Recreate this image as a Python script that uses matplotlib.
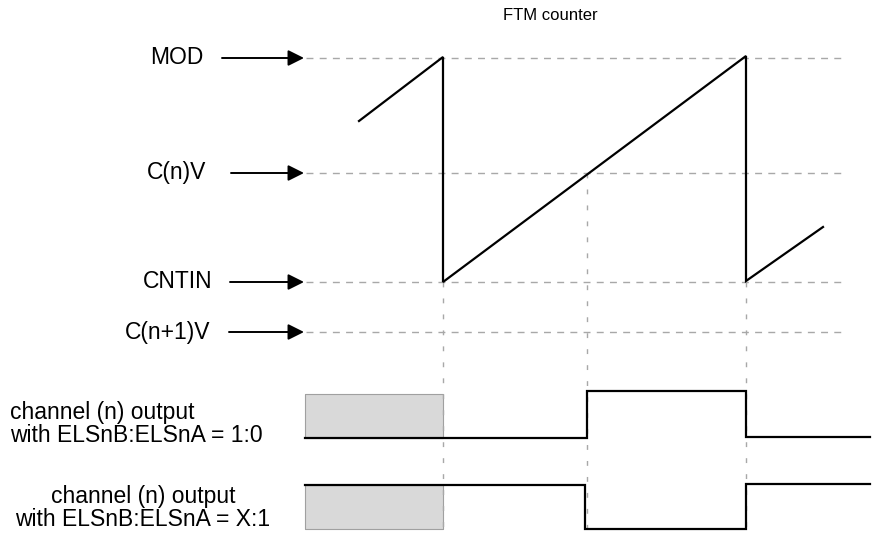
import numpy as np
from matplotlib import pyplot as plt

plt.rcParams['font.family'] = ['Liberation Sans', 'DejaVu Sans']

# reference levels of the counter (y in diagram units, top = 0)
level_names = ['MOD', 'C(n)V', 'CNTIN', 'C(n+1)V']
level_y = [58, 173, 282, 332]
label_x = [177, 177, 178, 168]
arrow_start = [222, 231, 230, 229]
arrow_end = 304
guide_start = 306
guide_end = [845, 842, 842, 842]

# FTM counter sawtooth
counter_t = [359, 443, 443, 746, 746, 823]
counter_y = [121, 57, 282, 56, 281, 227]

# event times (counter reload and match)
event_t = [443, 587, 746]
event_top = [282, 173, 282]
event_bottom = 532

# channel outputs
out1_t = [305, 587, 587, 746, 746, 870]
out1_y = [438, 438, 391, 391, 437, 437]
out2_t = [305, 585, 585, 746, 746, 870]
out2_y = [485, 485, 529, 529, 484, 484]
unknown_t = (305, 443)
unknown_y = [(394, 438), (485, 529)]

out_labels = ['channel (n) output\nwith ELSnB:ELSnA = 1:0',
              'channel (n) output\nwith ELSnB:ELSnA = X:1']
out_label_x = [10, 143]
out_label_y = [424, 508]
out_label_ha = ['left', 'center']


def main():
    fig = plt.figure(figsize=(8.72, 5.35), dpi=100)
    ax = fig.add_axes([0, 0, 1, 1])
    ax.set_xlim(0, 872)
    ax.set_ylim(535, 0)
    ax.axis('off')

    grey = '#a8a8a8'
    for name, y, lx, xs, xe in zip(level_names, level_y, label_x,
                                   arrow_start, guide_end):
        ax.text(lx, y, name, ha='center', va='center', fontsize=16.5)
        ax.annotate('', xy=(arrow_end, y), xytext=(xs, y),
                    arrowprops=dict(arrowstyle='-|>', color='black', lw=1.4,
                                    mutation_scale=24, shrinkA=0, shrinkB=0))
        ax.plot([guide_start, xe], [y, y], color=grey, lw=1,
                dashes=(5, 4.5))

    for t, top in zip(event_t, event_top):
        ax.plot([t, t], [top, event_bottom], color=grey, lw=1,
                dashes=(3.5, 8))

    for y0, y1 in unknown_y:
        ax.fill_between(unknown_t, y0, y1, facecolor='#d9d9d9',
                        edgecolor='#a0a0a0', lw=0.8)

    ax.plot(counter_t, counter_y, color='black', lw=1.6,
            solid_joinstyle='miter')
    ax.plot(out1_t, out1_y, color='black', lw=1.6, solid_joinstyle='miter')
    ax.plot(out2_t, out2_y, color='black', lw=1.6, solid_joinstyle='miter')

    for txt, x, y, ha in zip(out_labels, out_label_x, out_label_y,
                             out_label_ha):
        ax.text(x, y, txt, ha=ha, va='center', fontsize=16.5, ma=ha,
                linespacing=1.05)

    ax.text(503, 16, 'FTM counter', ha='left', va='center', fontsize=12)

    fig.savefig('out.png', dpi=100)


if __name__ == '__main__':
    main()
